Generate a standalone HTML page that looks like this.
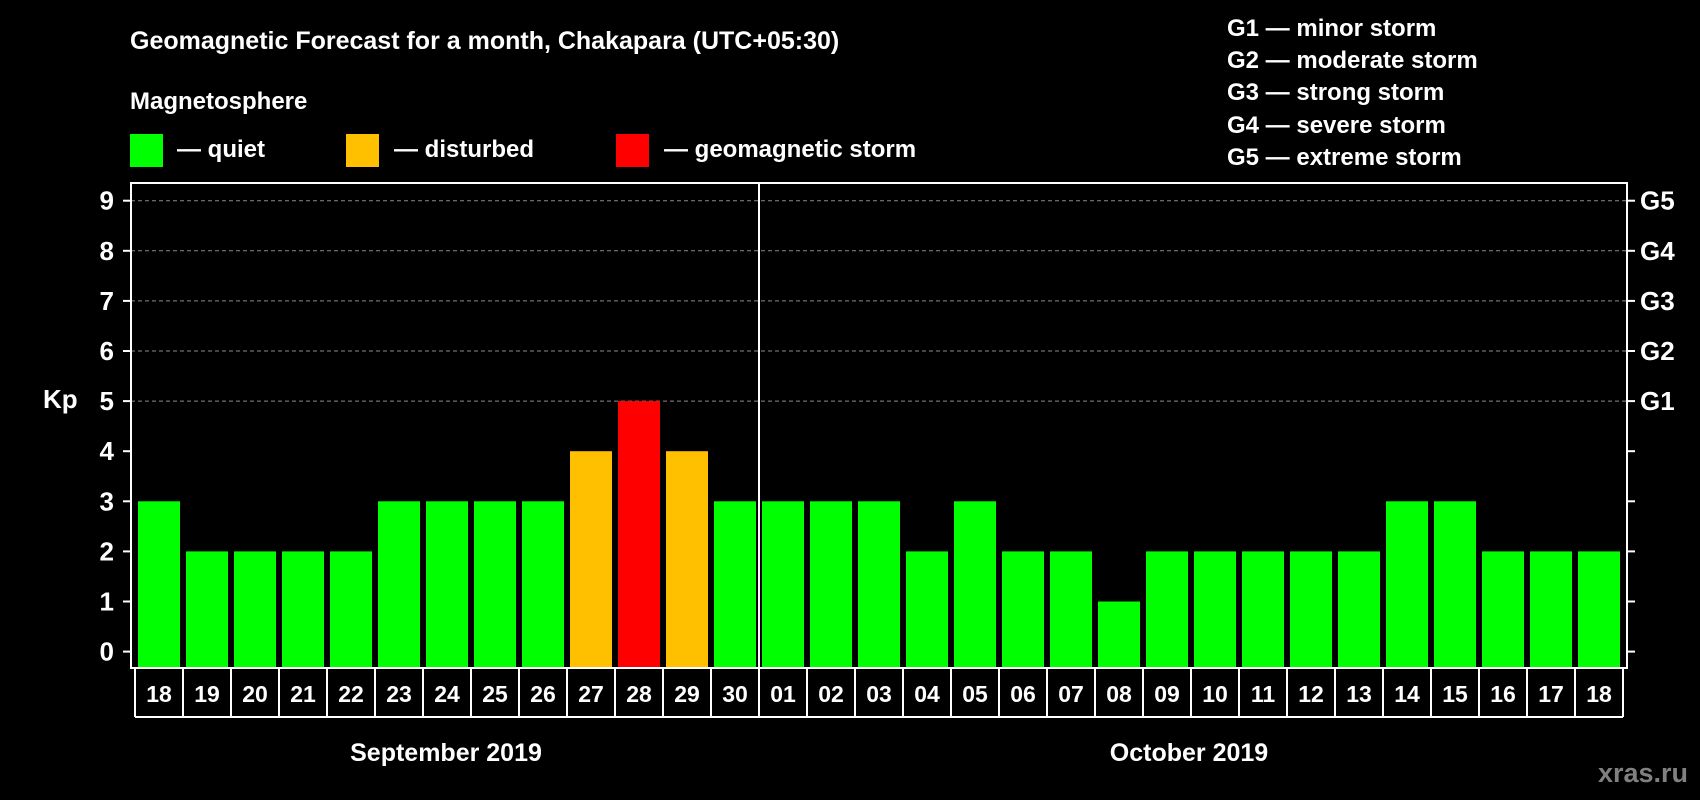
<!DOCTYPE html>
<html><head><meta charset="utf-8"><style>
html,body{margin:0;padding:0;background:#000;width:1700px;height:800px;overflow:hidden}
svg{display:block;font-family:"Liberation Sans",Arial,sans-serif;font-weight:bold}
</style></head><body>
<svg id="c" width="1700" height="800" viewBox="0 0 1700 800">
<text x="130" y="49" fill="#fff" font-size="25">Geomagnetic Forecast for a month, Chakapara (UTC+05:30)</text>
<text x="130" y="109" fill="#fff" font-size="24">Magnetosphere</text>
<rect x="130" y="134" width="33" height="33" fill="#00ff00"/>
<text x="177" y="157" fill="#fff" font-size="24">— quiet</text>
<rect x="346" y="134" width="33" height="33" fill="#ffc000"/>
<text x="394" y="157" fill="#fff" font-size="24">— disturbed</text>
<rect x="616" y="134" width="33" height="33" fill="#ff0000"/>
<text x="664" y="157" fill="#fff" font-size="24">— geomagnetic storm</text>
<g font-size="24" fill="#fff">
<text x="1227" y="36">G1 — minor storm</text>
<text x="1227" y="68">G2 — moderate storm</text>
<text x="1227" y="100">G3 — strong storm</text>
<text x="1227" y="133">G4 — severe storm</text>
<text x="1227" y="165">G5 — extreme storm</text>
</g>
<text x="43" y="408" fill="#fff" font-size="26">Kp</text>
<text x="446" y="761" fill="#fff" font-size="25" text-anchor="middle">September 2019</text>
<text x="1189" y="761" fill="#fff" font-size="25" text-anchor="middle">October 2019</text>
<text x="1688" y="782" fill="#808080" font-size="27" text-anchor="end">xras.ru</text>
<g id="plot"></g>
</svg>
<script>
const days=["18","19","20","21","22","23","24","25","26","27","28","29","30","01","02","03","04","05","06","07","08","09","10","11","12","13","14","15","16","17","18"];
const kp=[3,2,2,2,2,3,3,3,3,4,5,4,3,3,3,3,2,3,2,2,1,2,2,2,2,2,3,3,2,2,2];
const yTicks=[0,1,2,3,4,5,6,7,8,9];
const gLabels=["G1","G2","G3","G4","G5"];
const ns="http://www.w3.org/2000/svg";
const g=document.getElementById("plot");
const y=v=>651.6-v*50.1;
const x=i=>138+i*48;
function mk(t,a){const e=document.createElementNS(ns,t);for(const k in a)e.setAttribute(k,a[k]);g.appendChild(e);return e;}
// grid
yTicks.forEach(v=>{
 if(v>=5){const l=mk("line",{x1:131,x2:1627,y1:y(v),y2:y(v),stroke:"#8a8a8a","stroke-width":1,"stroke-dasharray":"4,3"});
 
 }
 const t1=mk("line",{x1:123,x2:131,y1:y(v),y2:y(v),stroke:"#fff","stroke-width":2});
 
 
 const t2=mk("line",{x1:1627,x2:1635,y1:y(v),y2:y(v),stroke:"#fff","stroke-width":2});
 
 
 const tx=mk("text",{x:114,y:y(v)+9,fill:"#fff","font-size":26,"text-anchor":"end"});tx.textContent=v;
 
 
});
gLabels.forEach((s,i)=>{const t=mk("text",{x:1640,y:y(5+i)+9,fill:"#fff","font-size":26});t.textContent=s;
 
 });
kp.forEach((v,i)=>{
 const c=v>=5?"#ff0000":v>=4?"#ffc000":"#00ff00";
 const r=mk("rect",{x:x(i),y:y(v),width:42,height:y(0)-y(v)+16,fill:c});
 
 
 const t=mk("text",{x:x(i)+21,y:702,fill:"#fff","font-size":23,"text-anchor":"middle"});t.textContent=days[i];
 
 
 const d=mk("line",{x1:x(i)-3,x2:x(i)-3,y1:668,y2:717,stroke:"#fff","stroke-width":2});
 
 
});
const n=kp.length;
const last=mk("line",{x1:x(n)-3,x2:x(n)-3,y1:668,y2:717,stroke:"#fff","stroke-width":2});


const bl=mk("line",{x1:x(0)-3,x2:x(n)-3,y1:717,y2:717,stroke:"#fff","stroke-width":2});


const fr=mk("rect",{x:131,y:183,width:1496,height:485,fill:"none",stroke:"#fff","stroke-width":2});


const ms=mk("line",{x1:x(13)-3,x2:x(13)-3,y1:183,y2:668,stroke:"#fff","stroke-width":2});


</script>
</body></html>
